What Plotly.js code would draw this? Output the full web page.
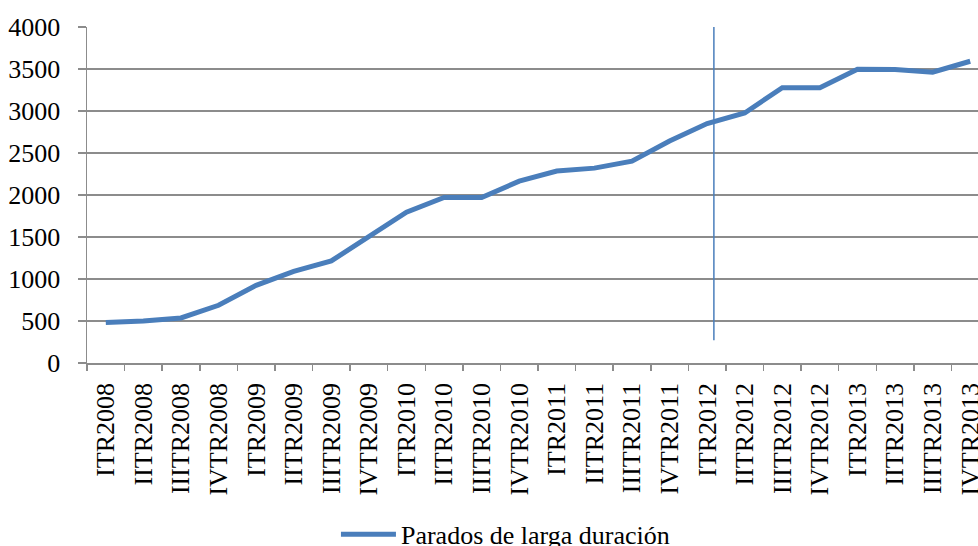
<!DOCTYPE html>
<html>
<head>
<meta charset="utf-8">
<script src="https://cdn.plot.ly/plotly-3.0.1.min.js"></script>
<style>
html, body { margin: 0; padding: 0; overflow: hidden; background: #fff; }
#chart { width: 1000px; height: 546px; }
</style>
</head>
<body>
<div id="chart"></div>
<script>
const categories = [
  "ITR2008","IITR2008","IIITR2008","IVTR2008",
  "ITR2009","IITR2009","IIITR2009","IVTR2009",
  "ITR2010","IITR2010","IIITR2010","IVTR2010",
  "ITR2011","IITR2011","IIITR2011","IVTR2011",
  "ITR2012","IITR2012","IIITR2012","IVTR2012",
  "ITR2013","IITR2013","IIITR2013","IVTR2013"
];
const paradosLargaDuracion = [
  481, 500, 536, 687,
  925, 1090, 1215, 1500,
  1795, 1970, 1970, 2165,
  2285, 2320, 2402, 2643,
  2850, 2976, 3278, 3278,
  3496, 3494, 3462, 3592
];
const seriesName = "Parados de larga duración";
const yTicks = [0, 500, 1000, 1500, 2000, 2500, 3000, 3500, 4000];
// vertical marker line position (category index) and extent
const markerX = 16.18;
const markerY = [270, 4020];

const blue = "#4a7ebb";
const grid = "#8c8c8c";
const font = { family: "'Liberation Serif', 'Times New Roman', Times, serif", size: 26, color: "#000" };

const trace = {
  type: "scatter",
  mode: "lines",
  x: categories,
  y: paradosLargaDuracion,
  name: seriesName,
  line: { color: blue, width: 5 },
  showlegend: true
};

const layout = {
  width: 1000,
  height: 546,
  margin: { l: 87, r: 11, t: 27, b: 183, autoexpand: false },
  paper_bgcolor: "#fff",
  plot_bgcolor: "#fff",
  font: font,
  showlegend: true,
  legend: {
    orientation: "h",
    x: 0.276, xanchor: "left",
    y: -0.51, yanchor: "middle",
    itemwidth: 55,
    font: font,
    bgcolor: "rgba(0,0,0,0)"
  },
  xaxis: {
    type: "category",
    range: [-0.5, 23.5],
    tickangle: -90,
    automargin: false,
    showgrid: false,
    showline: true,
    linecolor: grid,
    linewidth: 1.5,
    ticks: "outside",
    tickson: "boundaries",
    ticklen: 6,
    tickcolor: grid,
    tickwidth: 1.5,
    ticklabelstandoff: 8,
    tickfont: font,
    zeroline: false
  },
  yaxis: {
    range: [0, 4000],
    tickvals: yTicks,
    ticktext: yTicks.map(String),
    automargin: false,
    showgrid: true,
    gridcolor: grid,
    gridwidth: 1.5,
    showline: true,
    linecolor: grid,
    linewidth: 1.5,
    ticks: "outside",
    ticklen: 8,
    tickcolor: grid,
    tickwidth: 1.5,
    ticklabelstandoff: 12,
    tickfont: font,
    zeroline: false
  },
  shapes: [{
    type: "line",
    xref: "x", yref: "y",
    x0: markerX, x1: markerX,
    y0: markerY[0], y1: markerY[1],
    line: { color: blue, width: 1.5 }
  }]
};

Plotly.newPlot("chart", [trace], layout, { displayModeBar: false, staticPlot: true });
</script>
</body>
</html>
